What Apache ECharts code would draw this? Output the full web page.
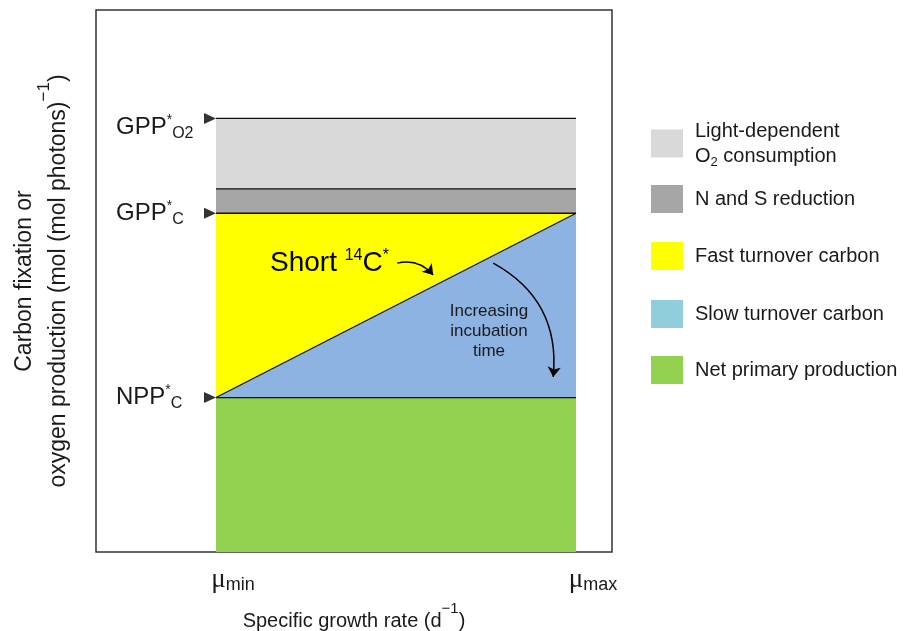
<!DOCTYPE html>
<html>
<head>
<meta charset="utf-8">
<script src="https://cdn.jsdelivr.net/npm/echarts@6/dist/echarts.min.js"></script>
<style>
  html, body { margin: 0; padding: 0; background: #fff; }
  #main { width: 907px; height: 631px; }
</style>
</head>
<body>
<div id="main"></div>
<script>
// 数据
var growthRates = [1, 4];              // mu_min, mu_max
var nppValues = [2.85, 2.85];          // net primary production
var slowValues = [0, 3.4];             // slow turnover carbon
var fastValues = [3.4, 0];             // fast turnover carbon
var nsValues = [0.45, 0.45];           // N and S reduction
var lightValues = [1.3, 1.3];          // light-dependent O2 consumption
var xTickValues = [1, 4];
var xTickNames = ['min', 'max'];
var yTickValues = [2.85, 6.25, 8.0];
var yTickNames = ['NPP*C', 'GPP*C', 'GPP*O2'];
var markerX = 0.95;
var seriesNames = ['Net primary production', 'Slow turnover carbon', 'Fast turnover carbon',
                   'N and S reduction', 'Light-dependent O2 consumption'];
var areaColors = ['#92d050', '#8db3e2', '#ffff00', '#a6a6a6', '#d9d9d9'];
var legendColors = ['#92d050', '#92cddc', '#ffff00', '#a6a6a6', '#d9d9d9'];
var legendTops = [351, 295, 237, 180, 116];

(function () {
    var myChart = echarts.init(document.getElementById('main'));
    var font = 'Liberation Sans, Arial, sans-serif';
    var txt = '#1a1a1a';

    // 累加得到每层的上边界
    var layers = [nppValues, slowValues, fastValues, nsValues, lightValues];
    var tops = [];
    layers.forEach(function (vals, i) {
        tops.push(vals.map(function (v, j) { return v + (i > 0 ? tops[i - 1][j] : 0); }));
    });

    // 从最上层开始画，下层覆盖上层
    var series = [];
    for (var i = layers.length - 1; i >= 0; i--) {
        series.push({
            name: seriesNames[i],
            type: 'line',
            data: growthRates.map(function (x, j) { return [x, tops[i][j]]; }),
            symbol: 'none',
            color: areaColors[i],
            lineStyle: { color: '#111', width: 1.3 },
            areaStyle: { color: areaColors[i], opacity: 1, origin: 'start' },
            silent: true,
            z: 2
        });
    }

    // 三角形标记
    series.push({
        type: 'scatter',
        data: yTickValues.map(function (v) { return [markerX, v]; }),
        symbol: 'triangle',
        symbolRotate: -90,
        symbolSize: [11, 12],
        itemStyle: { color: '#000' },
        silent: true,
        z: 5
    });

    // 箭头
    series.push({
        type: 'lines',
        coordinateSystem: 'cartesian2d',
        data: [
            { coords: [[2.51, 5.33], [2.81, 5.11]], lineStyle: { curveness: 0.3 } },
            { coords: [[3.31, 5.33], [3.81, 3.23]], lineStyle: { curveness: 0.33 } }
        ],
        symbol: ['none', 'arrow'],
        symbolSize: 10,
        lineStyle: { color: '#000', width: 1.5, opacity: 1 },
        silent: true,
        z: 6
    });

    var legends = seriesNames.map(function (name, i) {
        return {
            orient: 'vertical',
            left: 646,
            top: legendTops[i],
            itemWidth: 32,
            itemHeight: 28,
            icon: 'rect',
            selectedMode: false,
            data: [{ name: name, itemStyle: { color: legendColors[i], borderWidth: 0 } }],
            formatter: function (n) {
                if (n.indexOf('Light') === 0) {
                    return '{t|Light-dependent}\n{t|O}{s|2}{t| consumption}';
                }
                return '{t|' + n + '}';
            },
            textStyle: {
                padding: [0, 0, 0, 7],
                rich: {
                    t: { fontFamily: font, fontSize: 20, color: txt, lineHeight: 25 },
                    s: { fontFamily: font, fontSize: 13, color: txt, lineHeight: 16, verticalAlign: 'bottom' }
                }
            }
        };
    });

    var option = {
        animation: false,
        backgroundColor: '#fff',
        grid: {
            left: 96, top: 10, width: 516, height: 542,
            outerBoundsMode: 'none',
            show: true, borderColor: '#333', borderWidth: 1.5
        },
        legend: legends,
        xAxis: {
            type: 'value',
            min: 0,
            max: 4.3,
            axisLine: { show: false },
            axisTick: { show: false },
            splitLine: { show: false },
            axisLabel: {
                customValues: xTickValues,
                margin: 14,
                padding: [0, 0, 0, 34],
                formatter: function (v) {
                    return '{mu|μ}{sub|' + xTickNames[xTickValues.indexOf(v)] + '}';
                },
                rich: {
                    mu: { fontFamily: 'Liberation Serif, serif', fontSize: 27, color: txt, lineHeight: 28 },
                    sub: { fontFamily: font, fontSize: 18, color: txt, lineHeight: 20, verticalAlign: 'bottom' }
                }
            },
            name: '{n|Specific growth rate (d}{sup|−1}{n|)}',
            nameLocation: 'middle',
            nameGap: 49,
            nameTextStyle: {
                rich: {
                    n: { fontFamily: font, fontSize: 20, color: txt, lineHeight: 30, verticalAlign: 'bottom' },
                    sup: { fontFamily: font, fontSize: 15, color: txt, lineHeight: 30, verticalAlign: 'top', padding: [0, 0, 8, 0] }
                }
            }
        },
        yAxis: {
            type: 'value',
            min: 0,
            max: 10,
            axisLine: { show: false },
            axisTick: { show: false },
            splitLine: { show: false },
            axisLabel: {
                inside: true,
                margin: 20,
                customValues: yTickValues,
                formatter: function (v) {
                    var parts = yTickNames[yTickValues.indexOf(v)].split('*');
                    var label = '{m|' + parts[0] + '}{sup|*}{sub|' + parts[1] + '}';
                    // GPP*O2 的文字在线下方一点
                    return parts[1] === 'O2' ? '{gap| }\n' + label : label;
                },
                rich: {
                    gap: { fontSize: 1, lineHeight: 18 },
                    m: { fontFamily: font, fontSize: 24, color: txt, lineHeight: 28 },
                    sup: { fontFamily: font, fontSize: 14, color: txt, lineHeight: 16, verticalAlign: 'top' },
                    sub: { fontFamily: font, fontSize: 16, color: txt, lineHeight: 12, verticalAlign: 'bottom' }
                }
            },
            name: '{n|Carbon fixation or}\n{n|oxygen production (mol (mol photons)}{sup|−1}{n|)}',
            nameLocation: 'middle',
            nameRotate: 90,
            nameGap: 26,
            nameTextStyle: {
                rich: {
                    n: { fontFamily: font, fontSize: 23, color: txt, lineHeight: 34, verticalAlign: 'bottom' },
                    sup: { fontFamily: font, fontSize: 17, color: txt, lineHeight: 34, verticalAlign: 'top', padding: [0, 0, 9, 0] }
                }
            }
        },
        series: series
    };
    myChart.setOption(option);

    // 注释文字
    var shortPos = myChart.convertToPixel({ gridIndex: 0 }, [1.45, 5.33]);
    var incPos = myChart.convertToPixel({ gridIndex: 0 }, [3.275, 4.07]);
    myChart.setOption({
        graphic: [
            {
                type: 'text', x: shortPos[0], y: shortPos[1], z: 10,
                style: {
                    text: '{m|Short }{sup|14}{m|C}{sup|*}',
                    verticalAlign: 'middle',
                    rich: {
                        m: { fontFamily: font, fontSize: 28, fill: '#000', lineHeight: 32 },
                        sup: { fontFamily: font, fontSize: 16, fill: '#000', lineHeight: 20, verticalAlign: 'top' }
                    }
                }
            },
            {
                type: 'text', x: incPos[0], y: incPos[1], z: 10,
                style: {
                    text: 'Increasing\nincubation\ntime',
                    align: 'center',
                    verticalAlign: 'middle',
                    fontFamily: font,
                    fontSize: 17,
                    lineHeight: 20,
                    fill: '#1a1a1a'
                }
            }
        ]
    });

    window.addEventListener('resize', function () {
        myChart.resize();
    });
})();
</script>
</body>
</html>
